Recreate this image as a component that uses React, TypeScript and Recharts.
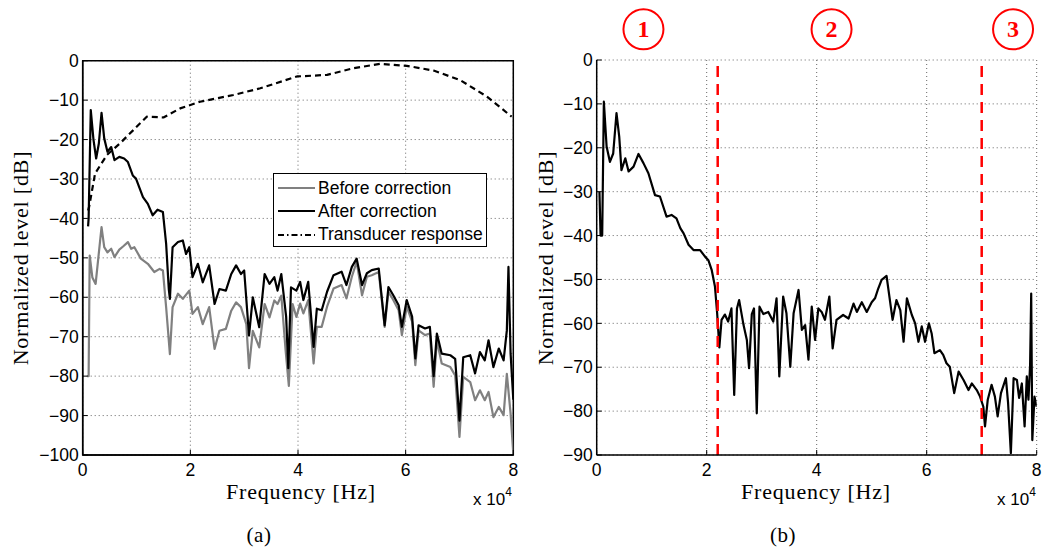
import { LineChart, Line, XAxis, YAxis, CartesianGrid, ReferenceLine, ReferenceArea, ReferenceDot } from 'recharts';

// frequency in units of 10^4 Hz, level in dB
const xTicks = [0, 2, 4, 6, 8];
const leftYTicks = [0, -10, -20, -30, -40, -50, -60, -70, -80, -90, -100];
const rightYTicks = [0, -10, -20, -30, -40, -50, -60, -70, -80, -90];

const beforeCorrection: [number, number][] = [
  [0.08, -80], [0.11, -80], [0.13, -49.4], [0.18, -55], [0.24, -56.6], [0.35, -42.2], [0.4, -47.3],
  [0.46, -48.6], [0.53, -47.7], [0.59, -49.8], [0.68, -47.9], [0.76, -47], [0.84, -46], [0.9, -47.7],
  [0.96, -47.3], [1.08, -50.2], [1.21, -51.5], [1.33, -53.6], [1.43, -52.8], [1.49, -53.2], [1.55, -62.5],
  [1.62, -74.4], [1.67, -62.5], [1.77, -59.1], [1.86, -60.4], [1.98, -58.3], [2.04, -64.2], [2.14, -62.5],
  [2.23, -66.8], [2.35, -62.5], [2.45, -73.1], [2.54, -68.5], [2.66, -68], [2.76, -63.4], [2.85, -61.3],
  [2.94, -62.5], [3.04, -66.8], [3.09, -78], [3.16, -68.5], [3.28, -72.7], [3.38, -61.7], [3.47, -65.1],
  [3.56, -60.8], [3.62, -61.7], [3.69, -59.6], [3.77, -73.5], [3.83, -82.5], [3.9, -61.7], [3.97, -65],
  [4.04, -61.6], [4.1, -64.1], [4.19, -60.7], [4.29, -76.8], [4.35, -67.5], [4.44, -67.5], [4.54, -62.4],
  [4.66, -57.8], [4.81, -56.9], [4.9, -60.3], [5.0, -54.8], [5.09, -51], [5.19, -59.5], [5.28, -54.8],
  [5.37, -54.4], [5.5, -53.6], [5.61, -67.5], [5.68, -58.6], [5.77, -60.7], [5.87, -63.3], [5.93, -69.6],
  [6.02, -62.4], [6.12, -66.2], [6.18, -77.2], [6.24, -68.4], [6.36, -69.6], [6.45, -69.2], [6.52, -82.7],
  [6.58, -70.9], [6.67, -76.8], [6.83, -77.7], [6.92, -79.8], [7.0, -95.4], [7.07, -80.2], [7.2, -81.5],
  [7.29, -86.1], [7.38, -83.6], [7.47, -86.1], [7.54, -84], [7.63, -90.4], [7.73, -87.8], [7.82, -89.9],
  [7.88, -79.4], [7.95, -89.5], [8.0, -99.7],
];

const afterCorrection: [number, number][] = [
  [0.1, -42], [0.11, -40], [0.15, -12.5], [0.2, -20], [0.25, -24.8], [0.3, -21], [0.35, -13.2], [0.4, -19.7],
  [0.46, -23.1], [0.53, -21.9], [0.59, -25.2], [0.68, -24.4], [0.77, -24.8], [0.84, -25.7], [0.93, -29.1],
  [0.99, -29.9], [1.12, -34.6], [1.21, -36.3], [1.3, -39.2], [1.39, -37.8], [1.49, -38.4], [1.55, -46.4],
  [1.6, -58], [1.62, -60.4], [1.67, -47.3], [1.77, -46], [1.86, -45.6], [1.92, -49], [1.98, -47.3],
  [2.04, -54.9], [2.14, -51.5], [2.23, -56.2], [2.35, -51.9], [2.45, -61.7], [2.54, -57.9], [2.66, -58.3],
  [2.76, -54.1], [2.85, -51.9], [2.94, -54.1], [3.0, -53.2], [3.09, -69.7], [3.16, -60], [3.28, -67.6],
  [3.38, -54.1], [3.47, -56.6], [3.56, -54.9], [3.62, -58.3], [3.69, -54.1], [3.78, -65], [3.82, -78],
  [3.87, -57.5], [3.97, -58.3], [4.04, -56.1], [4.1, -60.7], [4.19, -56.1], [4.29, -72.6], [4.35, -62.9],
  [4.44, -63.3], [4.54, -58.6], [4.66, -54.4], [4.81, -53.5], [4.9, -56.9], [5.0, -52.3], [5.09, -50.2],
  [5.19, -56.9], [5.28, -53.9], [5.37, -53.1], [5.5, -52.7], [5.61, -67.1], [5.68, -57.4], [5.77, -59.5],
  [5.87, -62], [5.93, -67.5], [6.02, -60.7], [6.12, -64.9], [6.18, -75.5], [6.24, -67.1], [6.36, -67.9],
  [6.45, -67.5], [6.52, -80], [6.58, -69.2], [6.67, -74.3], [6.83, -74.7], [6.92, -75.6], [7.0, -91.3],
  [7.07, -75.2], [7.2, -74.7], [7.29, -79.3], [7.38, -73.9], [7.47, -76], [7.54, -70.9], [7.63, -77.7],
  [7.73, -73], [7.82, -76], [7.88, -68.4], [7.91, -52.3], [7.95, -74.3], [8.0, -86],
];

const transducerResponse: [number, number][] = [
  [0.1, -38], [0.12, -37], [0.23, -28.6], [0.45, -23.9], [0.69, -21], [0.94, -17.6], [1.19, -14.2],
  [1.5, -14.4], [1.81, -12.1], [2.18, -10.4], [2.8, -8.7], [3.3, -7], [3.98, -4], [4.54, -3.6],
  [5.03, -1.9], [5.53, -0.8], [6.02, -1.3], [6.52, -2.5], [7.01, -4.9], [7.51, -9.1], [7.97, -14.2],
];

const correctedSpectrum: [number, number][] = [
  [0.05, -30], [0.07, -40], [0.1, -40], [0.13, -9.5], [0.18, -19.7], [0.24, -23.2], [0.3, -21.3],
  [0.36, -12.1], [0.41, -17.5], [0.45, -25.1], [0.52, -22.4], [0.58, -25.4], [0.67, -24.3], [0.76, -21.4],
  [0.85, -23.5], [0.94, -25.8], [1.06, -30.8], [1.15, -31.1], [1.27, -35.7], [1.36, -35.3], [1.45, -36.1],
  [1.52, -38.3], [1.58, -39.5], [1.67, -42.1], [1.76, -43.3], [1.88, -43.3], [1.97, -44.8], [2.03, -45.6],
  [2.09, -47.8], [2.15, -51.6], [2.19, -57.7], [2.23, -65.5], [2.27, -59.2], [2.33, -58], [2.39, -59.6],
  [2.45, -56.6], [2.5, -76.3], [2.55, -56.6], [2.59, -54.7], [2.67, -60.4], [2.73, -63.8], [2.77, -70.2],
  [2.82, -57.9], [2.86, -56.6], [2.91, -80.5], [2.96, -56.2], [3.03, -57.9], [3.12, -57.4], [3.21, -59.6],
  [3.27, -54.3], [3.32, -72.1], [3.39, -53.9], [3.45, -57.7], [3.52, -69.9], [3.58, -57.7], [3.67, -52.4],
  [3.73, -61.5], [3.79, -60.4], [3.85, -68.3], [3.91, -56.2], [3.97, -63.8], [4.03, -56.6], [4.09, -57.4],
  [4.15, -59.2], [4.23, -53.9], [4.29, -65.7], [4.36, -59.2], [4.48, -58.1], [4.58, -58.9], [4.67, -55.5],
  [4.73, -57.4], [4.82, -55.2], [4.91, -57.4], [5.0, -55.2], [5.06, -54.3], [5.11, -52.4], [5.18, -50.1],
  [5.27, -49.2], [5.38, -59.2], [5.45, -54.7], [5.52, -57], [5.58, -64.2], [5.64, -54.3], [5.73, -58.1],
  [5.79, -60], [5.85, -64.2], [5.91, -60.7], [5.97, -64.2], [6.04, -60], [6.09, -62.3], [6.14, -66.8],
  [6.24, -66.1], [6.3, -67.2], [6.36, -69.1], [6.42, -69.9], [6.5, -75.9], [6.58, -71], [6.67, -72.9],
  [6.76, -75.2], [6.82, -73.7], [6.91, -75.2], [6.97, -76.7], [7.03, -79], [7.06, -83.5], [7.11, -77.4],
  [7.18, -74], [7.24, -76.7], [7.29, -81.2], [7.35, -75.9], [7.44, -72.5], [7.48, -78.2], [7.53, -89.6],
  [7.58, -72.5], [7.64, -72.9], [7.68, -77], [7.73, -73.7], [7.78, -83.5], [7.82, -72.1], [7.85, -77.4],
  [7.88, -69.5], [7.9, -53.2], [7.92, -86.6], [7.96, -76.7], [8.0, -79],
];

const regionBounds = [2.2, 7.0];
const regionLabels = ['1', '2', '3'];
const regionCenters = [0.85, 4.27, 7.57];

const SANS = '"Liberation Sans", Arial, sans-serif';
const SERIF = '"Liberation Serif", "DejaVu Serif", serif';

const toPoints = (pairs: [number, number][]) => pairs.map(([f, db]) => ({ f, db }));
const fmtY = (v: number) => (v < 0 ? '\u2212' + Math.abs(v) : String(v));

const leftSeries = [
  { name: 'Before correction', color: '#808080', dash: undefined as string | undefined, legendDash: undefined as string | undefined, points: beforeCorrection },
  { name: 'After correction', color: '#000', dash: undefined, legendDash: undefined, points: afterCorrection },
  { name: 'Transducer response', color: '#000', dash: '6 4', legendDash: '6 3 1.5 3', points: transducerResponse },
];

const tickStyle = { fill: '#000', fontSize: 17.5, fontFamily: SANS };

function Overlay({ x, y, children, rotate, size = 22, font = SERIF, spacing = 0.8 }: any) {
  return (
    <div
      style={{
        position: 'absolute', left: x, top: y, transform: `translate(-50%, -50%)${rotate ? ' rotate(-90deg)' : ''}`,
        fontFamily: font, fontSize: size, whiteSpace: 'nowrap', color: '#000', lineHeight: 1, letterSpacing: spacing,
      }}
    >
      {children}
    </div>
  );
}

function Exponent({ x, y }: { x: number; y: number }) {
  return (
    <div style={{ position: 'absolute', left: x, top: y, fontFamily: SANS, fontSize: 17, whiteSpace: 'nowrap', lineHeight: 1 }}>
      x 10<sup style={{ fontSize: 12, position: 'relative', top: -2 }}>4</sup>
    </div>
  );
}

function LeftPanel() {
  return (
    <div style={{ position: 'absolute', left: 0, top: 0 }}>
      <LineChart width={530} height={549} margin={{ top: 60.7, right: 16.7, bottom: 64, left: 22.7 }}>
        <CartesianGrid stroke="#666" strokeDasharray="1 3" />
        <XAxis
          type="number" dataKey="f" domain={[0, 8]} ticks={xTicks} allowDataOverflow height={30}
          tick={tickStyle} axisLine={{ stroke: '#000', strokeWidth: 1.5 }} tickLine={{ stroke: '#000' }}
          tickSize={-5} tickMargin={14}
        />
        <YAxis
          type="number" dataKey="db" domain={[-100, 0]} ticks={leftYTicks} allowDataOverflow width={60}
          tick={tickStyle} tickFormatter={fmtY} axisLine={{ stroke: '#000', strokeWidth: 1.5 }} tickLine={{ stroke: '#000' }}
          tickSize={-5} tickMargin={9}
        />
        {leftSeries.map((s) => (
          <Line
            key={s.name} data={toPoints(s.points)} dataKey="db" name={s.name} type="linear" stroke={s.color}
            strokeWidth={2.2} strokeDasharray={s.dash} dot={false} activeDot={false} isAnimationActive={false}
            strokeLinejoin="round"
          />
        ))}
        <ReferenceArea x1={0} x2={8} y1={-100} y2={0} fill="none" stroke="#000" strokeWidth={1.5} ifOverflow="visible" />
      </LineChart>
      <div
        style={{
          position: 'absolute', left: 273, top: 173, width: 214, height: 74, border: '1.5px solid #000',
          background: '#fff', boxSizing: 'border-box', fontFamily: SANS, fontSize: 17.5,
        }}
      >
        {leftSeries.map((s, i) => (
          <div key={s.name} style={{ position: 'absolute', left: 0, top: 3 + i * 23.3, height: 22, display: 'flex', alignItems: 'center' }}>
            <svg width={44} height={22}>
              <line x1={4} x2={41} y1={11} y2={11} stroke={s.color} strokeWidth={2} strokeDasharray={s.legendDash} />
            </svg>
            <span>{s.name}</span>
          </div>
        ))}
      </div>
      <Overlay x={21} y={258} rotate>Normalized level [dB]</Overlay>
      <Overlay x={301} y={492}>Frequency [Hz]</Overlay>
      <Exponent x={473} y={488} />
      <Overlay x={259} y={535} size={21} spacing={0.5}>(a)</Overlay>
    </div>
  );
}

function RegionMarker(props: any) {
  const { cx, cy, label } = props;
  return (
    <g>
      <circle cx={cx} cy={cy} r={20} fill="#fff" stroke="#f00" strokeWidth={2} />
      <text x={cx} y={cy + 8} textAnchor="middle" fill="#f00" fontSize={24} fontWeight="bold" fontFamily={SERIF}>
        {label}
      </text>
    </g>
  );
}

function RightPanel() {
  return (
    <div style={{ position: 'absolute', left: 530, top: 0 }}>
      <LineChart width={512} height={549} margin={{ top: 60, right: 5.3, bottom: 64, left: 6.7 }}>
        <CartesianGrid stroke="#666" strokeDasharray="1 3" />
        <XAxis
          type="number" dataKey="f" domain={[0, 8]} ticks={xTicks} allowDataOverflow height={30}
          tick={tickStyle} axisLine={{ stroke: '#000', strokeWidth: 1.5 }} tickLine={{ stroke: '#000' }}
          tickSize={-5} tickMargin={14}
        />
        <YAxis
          type="number" dataKey="db" domain={[-90, 0]} ticks={rightYTicks} allowDataOverflow width={60}
          tick={tickStyle} tickFormatter={fmtY} axisLine={{ stroke: '#000', strokeWidth: 1.5 }} tickLine={{ stroke: '#000' }}
          tickSize={-5} tickMargin={9}
        />
        <Line
          data={toPoints(correctedSpectrum)} dataKey="db" type="linear" stroke="#000" strokeWidth={2.2}
          dot={false} activeDot={false} isAnimationActive={false} strokeLinejoin="round"
        />
        {regionBounds.map((b) => (
          <ReferenceLine key={b} x={b} stroke="#f00" strokeWidth={2.5} strokeDasharray="11 7" />
        ))}
        {regionCenters.map((c, i) => (
          <ReferenceDot
            key={c} x={c} y={7} ifOverflow="visible"
            shape={(p: any) => <RegionMarker {...p} label={regionLabels[i]} />}
          />
        ))}
      </LineChart>
      <Overlay x={16} y={258} rotate>Normalized level [dB]</Overlay>
      <Overlay x={286} y={492}>Frequency [Hz]</Overlay>
      <Exponent x={467} y={488} />
      <Overlay x={253} y={535} size={21} spacing={0.5}>(b)</Overlay>
    </div>
  );
}

export default function App() {
  return (
    <div style={{ position: 'absolute', left: 0, top: 0, width: 1042, height: 549, background: '#fff' }}>
      <LeftPanel />
      <RightPanel />
    </div>
  );
}
